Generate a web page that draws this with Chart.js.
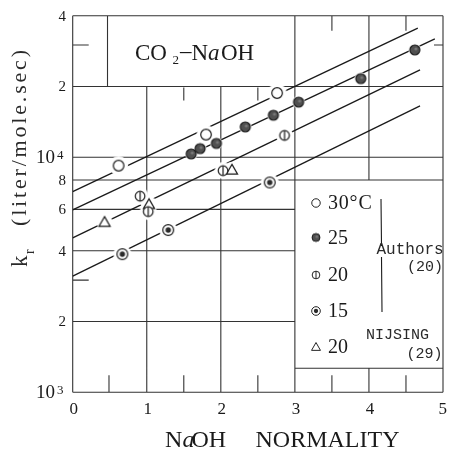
<!DOCTYPE html>
<html>
<head>
<meta charset="utf-8">
<script src="https://cdn.jsdelivr.net/npm/chart.js@4.4.1/dist/chart.umd.min.js"></script>
<style>
  html, body { margin: 0; padding: 0; background: #fff; }
  #wrap { width: 449px; height: 449px; }
</style>
</head>
<body>
<div id="wrap"><canvas id="krChart" width="449" height="449"></canvas></div>
<script>
// NaOH normality (x) against rate constant kr in liter/mole.sec (y)
const naoh30 = [0.62, 1.80, 2.76];
const kr30 = [9210, 12480, 18750];

const naoh25 = [1.60, 1.72, 1.94, 2.33, 2.71, 3.05, 3.89, 4.62];
const kr25 = [10330, 10880, 11450, 13460, 15090, 17160, 21600, 28620];

const naoh20 = [0.91, 1.02, 2.03, 2.86];
const kr20 = [6830, 5870, 8770, 12380];

const naoh15 = [0.67, 1.29, 2.66];
const kr15 = [3870, 4900, 7810];

// Nijsing, 20 C
const naohNij = [0.43, 1.03, 2.15];
const krNij = [5290, 6300, 8830];

// straight lines through each temperature, end points
const fit30X = [0, 4.66], fit30Y = [7140, 35390];
const fit25X = [0, 4.89], fit25Y = [5970, 31870];
const fit20X = [0, 4.69], fit20Y = [4540, 23520];
const fit15X = [0, 4.69], fit15Y = [3120, 16530];

const xTicks = [0, 1, 2, 3, 4, 5];
const yTicks = [1000, 2000, 4000, 6000, 8000, 10000, 20000, 40000];
const yTickText = ['10', '2', '4', '6', '8', '10', '2', '4'];
const yTickPow = ['3', '', '', '', '', '4', '', ''];

const legendText = ['30\u00b0C', '25', '20', '15', '20'];

const pts = (xs, ys) => xs.map((x, i) => ({x: x, y: ys[i]}));

const INK = '#1a1a1a';
const SERIF = '"Liberation Serif", serif';
const MONO = '"Liberation Mono", monospace';

// draws a string one glyph at a time with extra space between glyphs
function spaced(ctx, str, x, y, gap) {
  let cx = x;
  for (const ch of str) {
    ctx.fillText(ch, cx, y);
    cx += ctx.measureText(ch).width + gap;
  }
}

function markerCanvas(kind, s) {
  const c = document.createElement('canvas');
  c.width = c.height = 24;
  const g = c.getContext('2d');
  g.translate(12, 12);
  g.scale(s, s);
  g.strokeStyle = INK;
  g.lineWidth = 1.2;
  g.fillStyle = '#fff';
  g.beginPath();
  if (kind === 'open') {
    g.arc(0, 0, 5.3, 0, Math.PI * 2); g.fill(); g.stroke();
  } else if (kind === 'filled') {
    g.arc(0, 0, 5, 0, Math.PI * 2);
    g.fillStyle = '#505050'; g.fill(); g.stroke();
    g.beginPath(); g.arc(1, -1, 1.6, 0, Math.PI * 2);
    g.fillStyle = '#777'; g.fill();
  } else if (kind === 'bar') {
    g.arc(0, 0, 4.8, 0, Math.PI * 2); g.fill(); g.stroke();
    g.beginPath(); g.moveTo(0, -4.8); g.lineTo(0, 4.8); g.stroke();
  } else if (kind === 'dot') {
    g.arc(0, 0, 5.4, 0, Math.PI * 2); g.fill(); g.stroke();
    g.beginPath(); g.arc(0, 0, 2.7, 0, Math.PI * 2);
    g.fillStyle = '#2a2a2a'; g.fill();
  } else if (kind === 'tri') {
    g.moveTo(0, -5.6); g.lineTo(5.6, 4.2); g.lineTo(-5.6, 4.2); g.closePath();
    g.fill(); g.stroke();
  }
  return c;
}

// white disc under each marker so lines and rules stop short of it
function haloCanvas(r) {
  const d = Math.ceil(r * 2) + 2;
  const c = document.createElement('canvas');
  c.width = c.height = d;
  const g = c.getContext('2d');
  g.fillStyle = '#fff';
  g.beginPath(); g.arc(d / 2, d / 2, r, 0, Math.PI * 2); g.fill();
  return c;
}

const series = [
  {x: naoh30, y: kr30, kind: 'open', halo: 9.5},
  {x: naoh25, y: kr25, kind: 'filled', halo: 6.2},
  {x: naoh20, y: kr20, kind: 'bar', halo: 8.5},
  {x: naoh15, y: kr15, kind: 'dot', halo: 9},
  {x: naohNij, y: krNij, kind: 'tri', halo: 8}
];

const datasets = [];
[[fit30X, fit30Y], [fit25X, fit25Y], [fit20X, fit20Y], [fit15X, fit15Y]].forEach(([xs, ys]) => {
  datasets.push({
    data: pts(xs, ys), showLine: true, borderColor: INK, borderWidth: 1.3,
    pointRadius: 0, order: 3
  });
});
series.forEach(s => {
  datasets.push({data: pts(s.x, s.y), pointStyle: haloCanvas(s.halo), pointRadius: 5, order: 2});
  datasets.push({data: pts(s.x, s.y), pointStyle: markerCanvas(s.kind, 1), pointRadius: 5, order: 1});
});

// rules of the printed grid: [value, from, to]
const hRules = [[40000, 0, 5], [20000, 0, 5], [10000, 0, 5], [8000, 0, 5], [6000, 0, 3],
  [4000, 0, 3], [2000, 0, 3], [1265, 3, 5], [1000, 0, 5]];
const vRules = [[0, 1000, 40000], [0.47, 20000, 40000], [1, 1000, 20000], [2, 1000, 20000],
  [3, 1000, 40000], [4, 8000, 40000], [4, 1000, 1265], [5, 1000, 40000]];

const gridPlugin = {
  id: 'paperGrid',
  beforeDatasetsDraw(chart) {
    const {ctx, scales: {x, y}} = chart;
    ctx.save();
    ctx.strokeStyle = '#333';
    ctx.lineWidth = 1.1;
    ctx.beginPath();
    hRules.forEach(([v, a, b]) => {
      const py = y.getPixelForValue(v);
      ctx.moveTo(x.getPixelForValue(a), py); ctx.lineTo(x.getPixelForValue(b), py);
    });
    vRules.forEach(([v, a, b]) => {
      const px = x.getPixelForValue(v);
      ctx.moveTo(px, y.getPixelForValue(a)); ctx.lineTo(px, y.getPixelForValue(b));
    });
    // short marks
    const bottom = y.getPixelForValue(1000);
    [0.49, 1.5, 2.5, 3.5, 4.5].forEach(v => {
      const px = x.getPixelForValue(v);
      ctx.moveTo(px, bottom); ctx.lineTo(px, bottom - 17);
    });
    const mid = y.getPixelForValue(20000);
    [1.5, 2.5].forEach(v => {
      const px = x.getPixelForValue(v);
      ctx.moveTo(px, mid + 1); ctx.lineTo(px, mid + 14);
    });
    const top = y.getPixelForValue(40000);
    [3.5, 4.5].forEach(v => {
      const px = x.getPixelForValue(v);
      ctx.moveTo(px, top); ctx.lineTo(px, top + 15);
    });
    [30000, 3000].forEach(v => {
      const py = y.getPixelForValue(v);
      ctx.moveTo(x.left, py); ctx.lineTo(x.left + 16, py);
    });
    const p3 = y.getPixelForValue(30000);
    ctx.moveTo(x.right, p3); ctx.lineTo(x.right - 9, p3);
    ctx.stroke();
    ctx.restore();
  }
};

const textPlugin = {
  id: 'paperText',
  afterDraw(chart) {
    const {ctx, scales: {x, y}} = chart;
    ctx.save();
    ctx.fillStyle = INK;

    // x tick labels
    ctx.font = '17px ' + SERIF;
    ctx.textAlign = 'center';
    ctx.textBaseline = 'alphabetic';
    xTicks.forEach(v => {
      const w = ctx.measureText(String(v)).width;
      const px = Math.min(x.getPixelForValue(v) + 1, 449 - w / 2 - 2);
      ctx.fillText(String(v), px, 414);
    });

    // y tick labels
    ctx.textBaseline = 'middle';
    yTicks.forEach((v, i) => {
      const py = y.getPixelForValue(v);
      if (yTickPow[i]) {
        ctx.textAlign = 'right';
        ctx.font = '19px ' + SERIF;
        ctx.fillText(yTickText[i], 55, py + 1);
        ctx.textAlign = 'left';
        ctx.font = '13px ' + SERIF;
        ctx.fillText(yTickPow[i], 57, py - 2);
      } else {
        ctx.textAlign = 'right';
        ctx.font = '15px ' + SERIF;
        ctx.fillText(yTickText[i], 66, py + 1);
      }
    });

    // axis titles
    ctx.textAlign = 'left';
    ctx.textBaseline = 'alphabetic';
    ctx.font = '24px ' + SERIF;
    ctx.fillText('N', 165, 447);
    ctx.font = 'italic 24px ' + SERIF;
    ctx.fillText('a', 182.5, 447);
    ctx.font = '24px ' + SERIF;
    ctx.fillText('OH', 191.5, 447);
    ctx.fillText('NORMALITY', 255.5, 447);

    ctx.fillStyle = '#2a2a2a';
    ctx.save();
    ctx.translate(27, 267);
    ctx.rotate(-Math.PI / 2);
    ctx.font = '23px ' + SERIF;
    ctx.fillText('k', 0, 0);
    ctx.font = '14px ' + SERIF;
    ctx.fillText('r', 13, 7);
    ctx.restore();
    ctx.save();
    ctx.translate(26, 226);
    ctx.rotate(-Math.PI / 2);
    ctx.font = '22px ' + SERIF;
    const unit = '(liter/mole.sec)';
    const gap = Math.max(0, (176 - ctx.measureText(unit).width) / (unit.length - 1));
    spaced(ctx, unit, 0, 0, gap);
    ctx.restore();
    ctx.fillStyle = INK;

    // box title
    ctx.font = '23px ' + SERIF;
    ctx.fillText('CO', 135, 60);
    ctx.font = '13px ' + SERIF;
    ctx.fillText('2', 172.5, 64);
    ctx.font = '23px ' + SERIF;
    ctx.fillText('\u2013', 180, 58);
    ctx.fillText('N', 191.5, 60);
    ctx.font = 'italic 23px ' + SERIF;
    ctx.fillText('a', 208, 60);
    ctx.font = '23px ' + SERIF;
    ctx.fillText('OH', 221, 60);

    // legend
    const rows = [203, 237.5, 275, 311, 347];
    ctx.textBaseline = 'middle';
    series.forEach((s, i) => {
      const img = markerCanvas(s.kind, 0.8);
      ctx.drawImage(img, 316 - 12, rows[i] - 12);
      ctx.font = '20px ' + SERIF;
      spaced(ctx, legendText[i], 328, rows[i] + 1, i === 0 ? 0.8 : 0);
    });
    ctx.strokeStyle = INK;
    ctx.lineWidth = 1.1;
    ctx.beginPath();
    ctx.moveTo(381, 199); ctx.lineTo(381.5, 246);
    ctx.moveTo(381.5, 257); ctx.lineTo(382, 312);
    ctx.stroke();
    ctx.fillStyle = '#2a2a2a';
    ctx.font = '16px ' + MONO;
    ctx.fillText('Authors', 376.5, 250);
    ctx.font = '15px ' + MONO;
    ctx.textAlign = 'right';
    ctx.fillText('(20)', 443, 267);
    ctx.textAlign = 'left';
    ctx.fillText('NIJSING', 366, 335);
    ctx.fillText('(29)', 406.5, 354);
    ctx.restore();
  }
};

new Chart(document.getElementById('krChart'), {
  type: 'scatter',
  data: {datasets: datasets},
  options: {
    responsive: false,
    animation: false,
    devicePixelRatio: 1,
    events: [],
    layout: {padding: {left: 72.7, right: 2.5, top: 15.7, bottom: 56.7}},
    plugins: {legend: {display: false}, tooltip: {enabled: false}},
    scales: {
      x: {type: 'linear', min: 0, max: 5, display: false},
      y: {type: 'logarithmic', min: 1000, max: 40000, display: false}
    }
  },
  plugins: [gridPlugin, textPlugin]
});
</script>
</body>
</html>
